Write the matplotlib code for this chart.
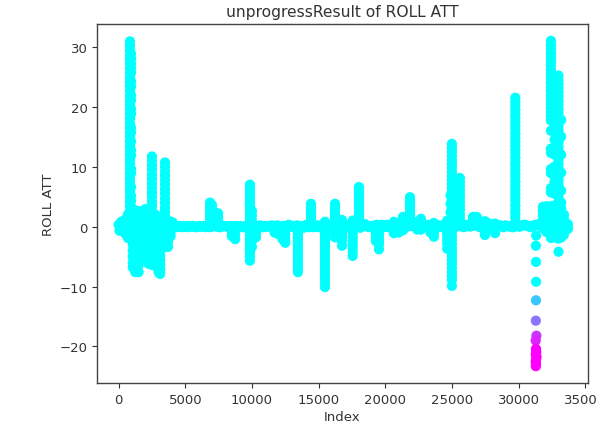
import matplotlib
matplotlib.use("Agg")
import matplotlib.pyplot as plt
from matplotlib.colors import Normalize

title = "unprogressResult of ROLL ATT"
x_label = "Index"
y_label = "ROLL ATT"
x_ticks = [0, 5000, 10000, 15000, 20000, 25000, 30000, 35000]
y_ticks = [-20, -10, 0, 10, 20, 30]

# Flat flight: the band around zero
baseline_index = [0, 120, 260, 420, 600, 3800, 4000, 4250, 4500, 4750, 5000, 5250, 5500, 5750, 6000, 6250,
                  6500, 6750, 7000, 7250, 7500, 7750, 8000, 8250, 8500, 8750, 9000, 9250, 9500, 9750, 10000,
                  10250, 10500, 10750, 11000, 11250, 11500, 11750, 12000, 12250, 12500, 12750, 13000, 13250,
                  13500, 13750, 14000, 14250, 14500, 14750, 15000, 15250, 15500, 15750, 16000, 16250, 16500,
                  16750, 17000, 17250, 17500, 17750, 18000, 18250, 18500, 18750, 19000, 19250, 19500, 19750,
                  20000, 20250, 20500, 20750, 21000, 21250, 21500, 21750, 22000, 22250, 22500, 22750, 23000,
                  23250, 23500, 23750, 24000, 24250, 24500, 24750, 25000, 25250, 25500, 25750, 26000, 26250,
                  26500, 26750, 27000, 27250, 27500, 27750, 28000, 28250, 28500, 28750, 29000, 29250, 29500,
                  29750, 30000, 30250, 30500, 30750, 31000, 31250, 31500]
baseline_roll = [0.3, -0.5, 0.6, -0.3, 0.5, 0.1, -0.1, 0.0, 0.1, -0.1, 0.0, 0.1, 0.0, -0.1, 0.1, 0.0,
                 -0.1, 0.1, 0.0, 0.1, -0.1, 0.0, 0.1, -0.1, 0.0, 0.1, 0.0, -0.1, 0.1, 0.0, -0.2,
                 0.2, 0.0, -0.1, 0.1, 0.0, 0.2, -0.1, 0.1, 0.0, -0.2, 0.3, 0.0, -0.2,
                 0.1, 0.0, 0.2, -0.1, 0.2, 0.0, -0.1, 0.3, 0.0, 0.2, -0.1, 0.1, 0.3,
                 0.0, 0.2, -0.1, 0.1, 0.0, 0.2, 0.1, 0.4, -0.1, 0.1, 0.2, 0.0, 0.3,
                 0.1, -0.1, 0.2, 0.4, 0.0, 0.2, -0.2, 0.3, 0.1, 0.4, 0.2, 0.0, 0.1,
                 0.3, 0.0, 0.1, 0.2, -0.1, 0.1, 0.4, 0.0, 0.2, 0.3, 0.1, 0.0, 0.2,
                 0.1, 0.3, 0.0, 0.2, 0.4, 0.1, 0.0, 0.2, 0.1, 0.0, 0.2, 0.1, -0.1,
                 0.1, 0.0, 0.2, 0.3, 0.1, 0.0, 0.2, 0.4]
baseline_between_index = [70, 190, 340, 510, 3900, 4125, 4375, 4625, 4875, 5125, 5375, 5625, 5875, 6125, 6375, 6625,
                          6875, 7125, 7375, 7625, 7875, 8125, 8375, 8625, 8875, 9125, 9375, 9625, 9875, 10125,
                          10375, 10625, 10875, 11125, 11375, 11625, 11875, 12125, 12375, 12625, 12875, 13125,
                          13375, 13625, 13875, 14125, 14375, 14625, 14875, 15125, 15375, 15625, 15875, 16125,
                          16375, 16625, 16875, 17125, 17375, 17625, 17875, 18125, 18375, 18625, 18875, 19125,
                          19375, 19625, 19875, 20125, 20375, 20625, 20875, 21125, 21375, 21625, 21875, 22125,
                          22375, 22625, 22875, 23125, 23375, 23625, 23875, 24125, 24375, 24625, 24875, 25125,
                          25375, 25625, 25875, 26125, 26375, 26625, 26875, 27125, 27375, 27625, 27875, 28125,
                          28375, 28625, 28875, 29125, 29375, 29625, 29875, 30125, 30375, 30625, 30875, 31125, 31375]
baseline_between_roll = [-0.7, 0.8, -0.6, 0.7, 0.0, 0.1, -0.1, 0.0, 0.1, -0.1, 0.0, 0.1, -0.1, 0.0, 0.1, 0.0,
                         -0.1, 0.1, 0.0, -0.1, 0.1, 0.0, 0.1, -0.1, 0.0, 0.1, -0.1, 0.0, 0.1, -0.1,
                         0.1, 0.2, -0.1, 0.0, 0.1, -0.2, 0.2, -0.1, 0.1, 0.0, 0.2, -0.1,
                         0.2, 0.0, -0.2, 0.3, 0.0, -0.1, 0.2, 0.0, 0.3, -0.1, 0.2, 0.0,
                         -0.2, 0.3, 0.1, -0.1, 0.3, 0.0, 0.2, -0.2, 0.3, 0.1, 0.0, -0.2,
                         0.3, 0.1, -0.1, 0.3, 0.0, -0.2, 0.4, 0.0, -0.2, 0.3, 0.1, 0.4,
                         -0.1, 0.3, 0.0, 0.2, -0.2, 0.4, 0.1, 0.0, 0.3, -0.1, 0.2, 0.3,
                         0.0, 0.2, -0.1, 0.3, 0.0, 0.2, 0.4, -0.1, 0.3, 0.1, -0.1, 0.3,
                         0.0, 0.2, -0.1, 0.1, 0.0, -0.1, 0.2, 0.0, 0.3, 0.1, -0.1, 0.2, 0.3]

# Early burst: tall spikes and a dense block under them
early_index = [500, 700, 850, 930, 1060, 1250, 1500, 1750, 2000, 2250, 2500, 2750, 3000, 3120, 3480, 3700, 3900, 4050]
early_rolls = [
    [1.2, 0.6, -0.6, -1.2],
    [2.0, 1.2, 0.4, -0.4, -1.2, -1.9],
    [30.9, 30.2, 29.4, 28.6, 27.9, 27.2, 26.4, 25.6, 24.8, 24.1, 23.4, 22.6, 21.8, 21.0, 20.3, 19.6, 18.8, 18.0, 17.2, 16.5, 15.7, 15.0, 14.2, 13.4, 12.6, 11.9, 11.1, 10.4, 9.6, 8.8, 8.0, 7.3, 6.5, 5.8, 5.0, 4.2, 3.4, 2.7, 1.9, 1.1, 0.3],
    [28.8, 28.0, 27.2, 26.5, 25.7, 24.2, 23.4, 21.9, 21.1, 19.6, 18.8, 16.5, 15.7, 14.2, 12.7, 11.9, 9.6, 8.9, 6.6, 5.1, 4.3, 2.7, 2.0, 1.2, 0.4],
    [3.0, 2.0, 1.0, 0.0, -1.0, -2.0, -3.0, -4.0, -5.0, -6.0, -6.8],
    [2.4, 1.7, 0.9, 0.2, -0.6, -1.3, -2.1, -2.8, -3.6, -4.3, -5.1, -5.8, -6.6, -7.6],
    [2.6, 1.8, 1.1, 0.3, -0.4, -1.2, -2.0, -2.7, -3.5, -4.2, -5.0, -5.7, -6.5, -7.6],
    [2.4, 1.6, 0.9, 0.1, -0.6, -1.4, -2.1, -2.9, -3.6, -4.4, -5.0, -5.4],
    [2.9, 2.2, 1.4, 0.7, -0.1, -0.8, -1.6, -2.3, -3.1, -3.8, -4.6, -5.3],
    [2.9, 2.1, 1.4, 0.6, -0.1, -0.9, -1.6, -2.4, -3.1, -3.9, -4.6, -5.4, -6.2],
    [11.7, 11.0, 10.2, 9.5, 8.7, 8.0, 7.2, 6.5, 5.7, 5.0, 4.2, 3.5, 2.7, 2.0, 1.2, 0.5, -0.3, -1.0, -1.8, -2.5, -3.3, -4.0, -4.8, -5.5, -6.4],
    [2.0, 1.2, 0.4, -0.4, -1.2, -2.0, -2.8, -3.6, -4.4, -5.2, -5.8, -6.5],
    [1.6, 0.8, 0.0, -0.8, -1.6, -2.4, -3.2, -4.0, -4.8, -5.6, -6.4, -7.2, -7.6],
    [0.8, 0.0, -0.8, -1.6, -2.4, -3.2, -4.0, -4.8, -5.6, -6.4, -7.2, -7.9],
    [10.7, 10.0, 9.2, 8.5, 7.7, 7.0, 6.2, 5.5, 4.7, 4.0, 3.2, 2.5, 1.7, 1.0, 0.2, -0.5, -1.3, -2.0, -2.8, -3.4],
    [1.0, 0.4, -0.4, -1.1, -1.9, -2.6, -3.4],
    [0.8, 0.2, -0.4, -1.0, -1.6],
    [0.7, 0.2],
]

# Middle part of the flight: narrow excursions, up and down
middle_index = [6860, 7000, 7200, 7460, 8500, 8740, 9850, 10000, 10300, 11700, 12000, 12300, 12500, 13450, 14430, 15480, 16230,
                16760, 17560, 18030, 19300, 19530, 20650, 21000, 21330, 21860, 22400, 22680, 23400, 23650]
middle_rolls = [
    [4.0, 3.4, 2.8, 2.2, 1.6, 1.0, 0.4],
    [3.6, 3.0, 2.4, 1.8, 1.2, 0.6],
    [2.4, 1.8, 1.2, 0.6],
    [2.2, 1.6, 1.0, 0.5],
    [-0.6, -1.2, -1.6],
    [-0.6, -1.3, -2.1],
    [7.0, 6.4, 5.8, 5.2, 4.6, 4.0, 3.4, 2.8, 2.2, 1.6, 1.0, 0.4, -0.2, -0.8, -1.4, -2.0, -2.6, -3.2, -3.8, -4.4, -5.0, -5.7],
    [2.6, 1.8, 1.0, -0.8, -1.6, -2.4, -3.4],
    [-0.6, -1.2, -1.8],
    [-0.5, -1.0],
    [-0.6, -1.3],
    [-0.6, -1.4, -2.1],
    [-0.6, -1.3, -2.0, -2.7],
    [-0.6, -1.2, -1.8, -2.4, -3.0, -3.6, -4.2, -4.8, -5.4, -6.0, -6.6, -7.2, -7.6],
    [3.8, 3.2, 2.6, 2.0, 1.4, 0.8],
    [0.8, 0.2, -0.4, -1.0, -1.6, -2.2, -2.8, -3.4, -4.0, -4.6, -5.2, -5.8, -6.4, -7.0, -7.6, -8.2, -8.8, -9.4, -10.1],
    [3.8, 3.2, 2.6, 2.0, 1.4, 0.8, -0.6, -1.2, -1.8],
    [1.1, 0.5, -0.6, -1.2, -1.8, -2.4, -3.2],
    [1.0, 0.4, -0.6, -1.2, -1.8, -2.4, -3.0, -3.6, -4.2, -4.9],
    [6.6, 6.0, 5.4, 4.8, 4.2, 3.6, 3.0, 2.4, 1.8, 1.2, 0.6],
    [-0.6, -1.2, -1.8, -2.4],
    [-0.6, -1.2, -1.8, -2.4, -3.0, -3.8],
    [0.8, -0.6, -1.1],
    [-0.6, -1.0],
    [1.6, 1.0, 0.5, -0.6],
    [4.9, 4.3, 3.7, 3.1, 2.5, 1.9, 1.3, 0.7],
    [0.8, -0.5],
    [1.3, 0.7, -0.5],
    [-0.6, -1.0],
    [0.6, -0.6, -1.2, -1.7],
]

# Late part: spikes of 25000 and 29800, then the final block before 33700
late_index = [24650, 24900, 25000, 25400, 25600, 26580, 26870, 27480, 27700, 28240, 29760, 31830, 32100, 32430, 32700, 33000, 33200, 33400, 33700]
late_rolls = [
    [1.0, 0.4, -0.4, -1.0, -1.6, -2.2, -2.8, -3.7],
    [5.2, 3.8, 2.4, 1.0, -0.4, -1.8, -3.2],
    [13.8, 13.1, 12.5, 11.8, 11.1, 10.5, 9.8, 9.1, 8.4, 7.8, 7.1, 6.4, 5.8, 5.1, 4.4, 3.8, 3.1, 2.4, 1.8, 1.1, 0.4, -0.2, -0.9, -1.6, -2.2, -2.9, -3.6, -4.2, -4.9, -5.6, -6.2, -6.9, -7.6, -8.2, -8.9, -9.9],
    [8.0, 7.2, 6.4, 5.6, 4.8, 4.0, 3.2, 2.4, 1.6, 0.8],
    [8.1, 7.4, 6.8, 6.1, 5.4, 4.8, 4.1, 3.4, 2.8, 2.1, 1.4, 0.8],
    [1.6, 1.0, 0.5],
    [1.6, 1.0, 0.5],
    [0.9, -0.5, -1.0, -1.4],
    [0.6, -0.5],
    [0.5, -0.6, -1.1],
    [21.5, 20.8, 20.2, 19.5, 18.8, 18.2, 17.5, 16.8, 16.2, 15.5, 14.8, 14.2, 13.5, 12.8, 12.2, 11.5, 10.8, 10.2, 9.5, 8.8, 8.2, 7.5, 6.8, 6.2, 5.5, 4.8, 4.2, 3.5, 2.8, 2.2, 1.5, 0.8],
    [3.3, 2.6, 1.9, 1.2, 0.5, -0.3],
    [3.4, 2.7, 2.0, 1.3, 0.6, -0.2, -0.9],
    [31.0, 30.3, 29.6, 28.9, 28.2, 27.5, 26.8, 26.1, 25.4, 24.7, 24.0, 23.3, 22.6, 21.9, 21.2, 20.5, 19.8, 19.1, 18.4, 17.7, 16.0, 13.0, 12.3, 9.6, 8.9, 6.4, 5.7, 3.4, 2.7, 2.0, 1.3, 0.6, -0.1, -0.8, -1.5, -1.9],
    [22.5, 21.7, 21.0, 20.2, 19.5, 18.7, 18.0, 17.2, 16.5, 14.5, 12.0, 10.0, 7.5, 5.5, 3.5, 2.7, 2.0, 1.2, 0.5, -0.3, -1.0, -1.8],
    [25.2, 24.5, 23.8, 23.1, 22.4, 21.7, 21.0, 20.3, 19.6, 18.9, 18.2, 17.5, 16.8, 16.1, 15.4, 14.7, 14.0, 13.3, 12.6, 11.9, 11.2, 10.5, 9.8, 9.1, 8.4, 7.7, 7.0, 6.3, 5.6, 4.9, 4.2, 3.5, 2.8, 2.1, 1.4, 0.7, 0.0, -0.7, -1.4, -2.0, -4.2],
    [17.8, 15.0, 12.0, 9.0, 6.0, 4.0, 3.0, 2.2, 1.4, 0.6, -0.2, -1.0, -1.8],
    [2.0, 1.4, 0.8, 0.2, -0.4, -1.0, -1.4],
    [0.4, -0.2, -0.4],
]

# The single roll-over dive near index 31300
dive_index = [31320, 31300, 31310, 31320, 31310, 31300, 31340, 31290, 31310, 31330, 31300, 31350, 31320, 31290, 31310, 31300]
dive_roll = [-1.5, -3.2, -5.9, -9.2, -12.3, -15.7, -18.2, -19.0, -20.4, -20.9, -21.3, -21.7, -22.1, -22.5, -22.9, -23.3]

index_values = list(baseline_index) + list(baseline_between_index)
roll_values = list(baseline_roll) + list(baseline_between_roll)
for group_index, group_rolls in [(early_index, early_rolls), (middle_index, middle_rolls), (late_index, late_rolls)]:
    for idx, rolls in zip(group_index, group_rolls):
        index_values.extend([idx] * len(rolls))
        roll_values.extend(rolls)
index_values.extend(dive_index)
roll_values.extend(dive_roll)

W, H = 596, 427
fig = plt.figure(figsize=(W / 100, H / 100), dpi=100)
ax = fig.add_axes([97.3 / W, 1 - 384 / H, (587.7 - 97.3) / W, (384 - 25) / H])

ax.scatter(index_values, roll_values, c=roll_values, cmap="cool_r",
           norm=Normalize(vmin=-20.5, vmax=-10), s=54, linewidths=0)

ax.set_xlim(-1600, 35190)
ax.set_ylim(-26.1, 33.8)
ax.set_xticks(x_ticks)
ax.set_yticks(y_ticks)
ax.tick_params(labelsize=9.5, colors="#333333", length=3.5, width=0.8)
for spine in ax.spines.values():
    spine.set_color("#444444")
    spine.set_linewidth(1.0)

ax.set_title(title, fontsize=11.2, color="#333333", pad=6)
ax.set_xlabel(x_label, fontsize=9.5, color="#333333", labelpad=3)
ax.set_ylabel(y_label, fontsize=9.5, color="#333333", labelpad=3)

fig.savefig("out.png", dpi=100)
